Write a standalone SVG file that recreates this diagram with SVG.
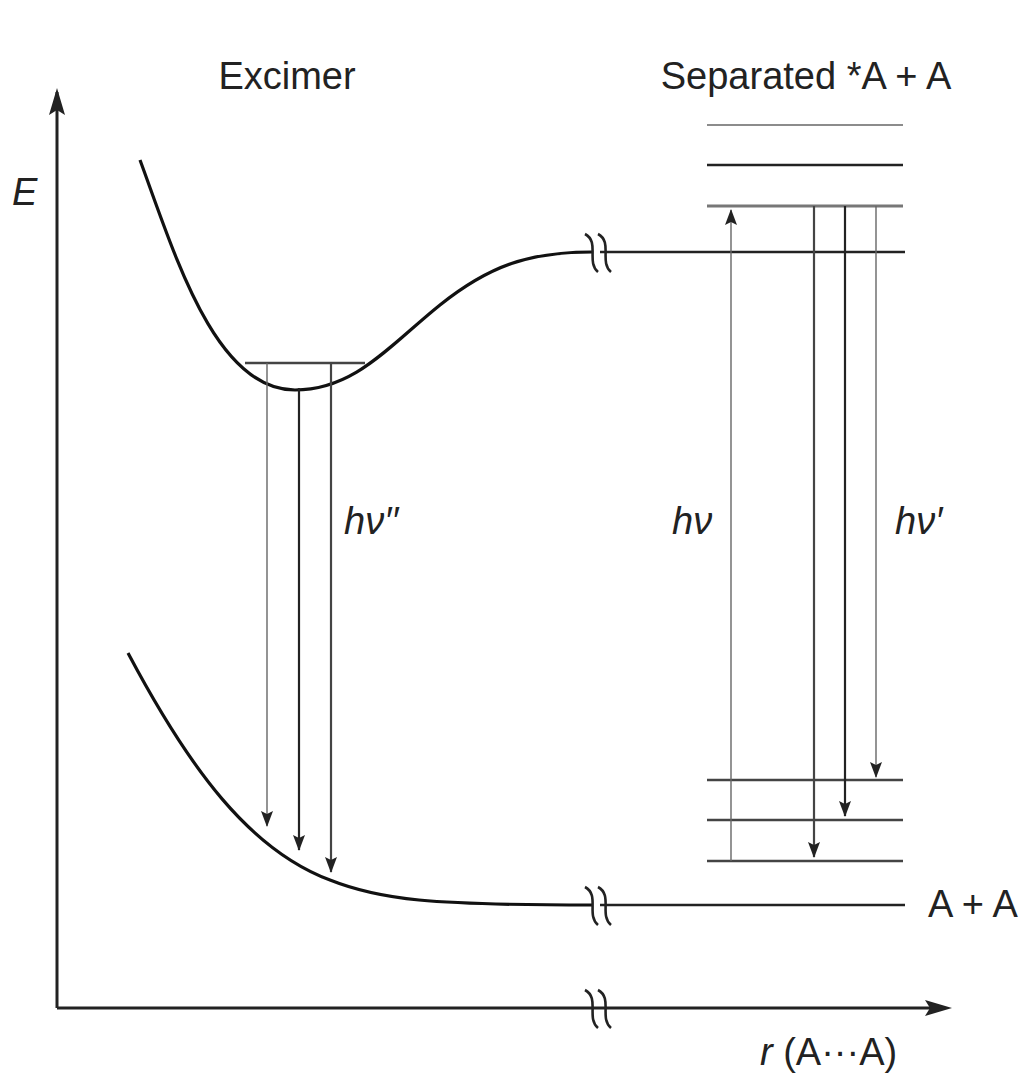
<svg xmlns="http://www.w3.org/2000/svg" width="1029" height="1074" viewBox="0 0 1029 1074">
<style>
.lbl{font-family:"Liberation Sans",Arial,sans-serif;font-size:38px;fill:#222}
.it{font-style:italic}
.curve{fill:none;stroke:#111;stroke-width:3.2}
.axis{fill:none;stroke:#222;stroke-width:3}
.brk{fill:none;stroke:#222;stroke-width:2.6}
.lvl{stroke:#444;stroke-width:2.4}
.thin{stroke:#666;stroke-width:1.4}
.arr{fill:none;stroke:#444;stroke-width:2.2}
.arrt{fill:none;stroke:#666;stroke-width:1.4}
</style>
<defs>
<marker id="ah" viewBox="0 0 16 12" refX="15" refY="6" markerWidth="16" markerHeight="12" markerUnits="userSpaceOnUse" orient="auto">
<path d="M0,0 L16,6 L0,12 L3,6 Z" fill="#222"/>
</marker>
</defs>
<rect width="1029" height="1074" fill="#fff"/>
<g id="labels">
<text id="excimer-label" class="lbl" x="287" y="89" text-anchor="middle">Excimer</text>
<text id="separated-label" class="lbl" x="806" y="89" text-anchor="middle">Separated *A + A</text>
<text id="E-label" class="lbl it" x="12" y="205">E</text>
<text id="hv2-label" class="lbl it" x="344" y="534">hν′′</text>
<text id="hv-label" class="lbl it" x="672" y="534">hν</text>
<text id="hv1-label" class="lbl it" x="895" y="534">hν′</text>
<text id="AA-label" class="lbl" x="928" y="917">A + A</text>
<text id="r-label" class="lbl" x="760" y="1065"><tspan class="it">r</tspan> (A···A)</text>
</g>
<g id="axes">
<path class="axis" d="M57,1008 V92"/>
<path d="M57,88 L49,115 L57,110 L65,115 Z" fill="#222"/>
<path class="axis" d="M57,1008 H945"/>
<path d="M952,1008 L925,1000 L930,1008 L925,1016 Z" fill="#222"/>
</g>
<g id="upper-curve">
<path class="curve" d="M140,160 C175,255 215,390 295,390 C355,390 390,345 440,305 C490,265 530,252 592,252"/>
<path class="lvl" d="M600,252 H905" style="stroke:#222"/>
</g>
<g id="lower-curve">
<path class="curve" d="M128,653 C190,770 250,850 330,880 C380,900 430,905 592,905"/>
<path class="lvl" d="M600,905 H905" style="stroke:#222"/>
</g>
<g id="breaks">
<path class="brk" d="M585,234 C600,242 586,262 598,272"/>
<path class="brk" d="M598,234 C613,242 599,262 611,272"/>
<path class="brk" d="M585,887 C600,895 586,915 598,925"/>
<path class="brk" d="M598,887 C613,895 599,915 611,925"/>
<path class="brk" d="M585,990 C600,998 586,1018 598,1028"/>
<path class="brk" d="M598,990 C613,998 599,1018 611,1028"/>
</g>
<g id="excimer-level">
<path class="lvl" d="M245,363 H365"/>
</g>
<g id="levels">
<path class="thin" d="M707,125 H903"/>
<path class="lvl" d="M707,165 H903" style="stroke:#222"/>
<path class="lvl" d="M707,206 H903" style="stroke:#777;stroke-width:3"/>
<path class="lvl" d="M707,780 H903"/>
<path class="lvl" d="M707,820 H903"/>
<path class="lvl" d="M707,861 H903"/>
</g>
<g id="connectors">
<path class="arrt" d="M267,363 V826" marker-end="url(#ah)"/>
<path class="arr" d="M299,388 V850" marker-end="url(#ah)" style="stroke:#222"/>
<path class="arr" d="M331,363 V872" marker-end="url(#ah)"/>
<path class="arrt" d="M731,861 V210" marker-end="url(#ah)"/>
<path class="arr" d="M814,206 V857" marker-end="url(#ah)"/>
<path class="arr" d="M845,206 V816" marker-end="url(#ah)" style="stroke:#222"/>
<path class="arrt" d="M876,206 V777" marker-end="url(#ah)"/>
</g>
</svg>
